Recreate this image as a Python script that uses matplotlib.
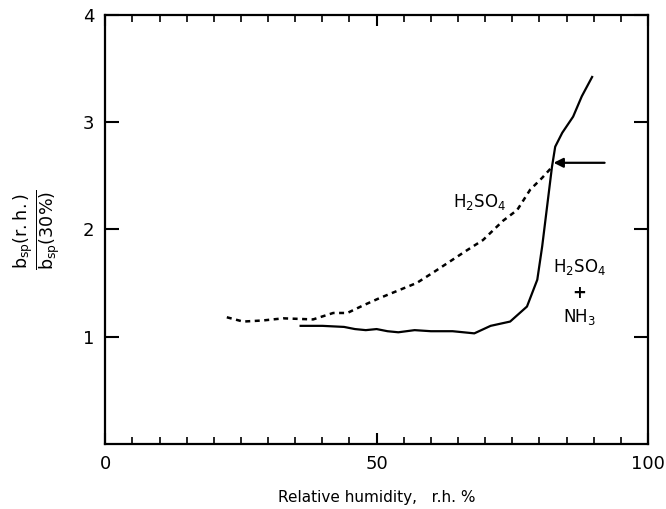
import matplotlib
matplotlib.use("Agg")
import matplotlib.pyplot as plt
import numpy as np

# H2SO4 + NH3 (solid)
rh_nh3 = [36.0, 40.0, 44.0, 46.0, 48.0, 50.0, 52.0, 54.0, 57.0, 60.0, 64.0, 68.0, 71.0,
          74.6, 77.7, 79.6, 80.5, 81.4, 82.3, 82.9, 84.2, 86.2, 87.8, 89.7]
b_nh3 = [1.10, 1.10, 1.09, 1.07, 1.06, 1.07, 1.05, 1.04, 1.06, 1.05, 1.05, 1.03, 1.10,
         1.14, 1.28, 1.53, 1.84, 2.21, 2.58, 2.77, 2.90, 3.05, 3.24, 3.42]

# H2SO4 (dashed)
rh_h2so4 = [22.4, 25.4, 29.0, 32.8, 38.3, 42.0, 44.6, 47.5, 50.6, 54.0, 57.4,
            60.5, 63.5, 66.5, 69.6, 73.3, 75.9, 78.3, 80.5, 82.3]
b_h2so4 = [1.18, 1.14, 1.15, 1.17, 1.16, 1.22, 1.22, 1.29, 1.36, 1.43, 1.50,
           1.60, 1.70, 1.80, 1.90, 2.08, 2.18, 2.37, 2.48, 2.58]

# arrow marking the deliquescence point
arrow_from = (92.0, 2.62)
arrow_to = (82.6, 2.62)

plt.rcParams['font.family'] = ['DejaVu Sans']
plt.rcParams['mathtext.fontset'] = 'dejavusans'

fig = plt.figure(figsize=(6.66, 5.09), dpi=100)
ax = fig.add_axes([0.158, 0.128, 0.815, 0.843])

ax.plot(rh_nh3, b_nh3, color='black', lw=1.6)
ax.plot(rh_h2so4, b_h2so4, color='black', lw=1.8, linestyle=(0, (2.0, 1.8)))

ax.annotate('', xy=arrow_to, xytext=arrow_from,
            arrowprops=dict(arrowstyle='-|>', color='black', lw=1.6,
                            mutation_scale=14, shrinkA=0, shrinkB=0))

ax.text(68.9, 2.25, r'H$_2$SO$_4$', fontsize=12, ha='center', va='center')
ax.text(87.3, 1.65, r'H$_2$SO$_4$', fontsize=12, ha='center', va='center')
ax.text(87.3, 1.41, '+', fontsize=12, ha='center', va='center', fontweight='bold')
ax.text(87.3, 1.18, r'NH$_3$', fontsize=12, ha='center', va='center')

ax.set_xlim(0, 100)
ax.set_ylim(0, 4)
ax.set_xticks([0, 50, 100])
ax.set_xticks(np.arange(5, 100, 5), minor=True)
ax.set_yticks([1, 2, 3, 4])
ax.set_yticklabels(['1', '2', '3', '4'])

ax.tick_params(axis='both', which='major', direction='in', length=8, width=1.5,
               top=True, right=True, labelsize=13, pad=8)
ax.tick_params(axis='x', which='minor', direction='in', length=5, width=1.2,
               top=True, bottom=True)
ax.tick_params(axis='y', which='major', length=10)

for sp in ax.spines.values():
    sp.set_linewidth(1.6)

ax.set_xlabel('Relative humidity,   r.h. %', fontsize=11, labelpad=12)
ax.set_ylabel(r'$\frac{\mathrm{b_{sp}(r.h.)}}{\mathrm{b_{sp}(30\%)}}$',
              fontsize=18, labelpad=14)

fig.savefig('out.png', dpi=100)
